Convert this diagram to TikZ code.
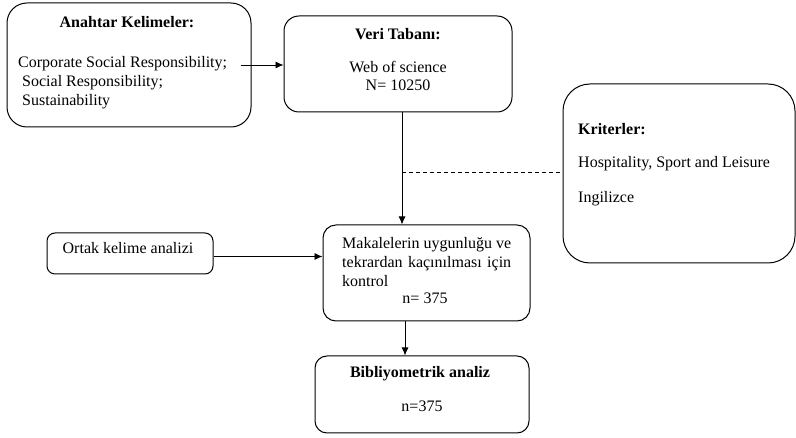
\documentclass[tikz,border=0pt]{standalone}
\usepackage{fontspec}
\setmainfont{Liberation Serif}
\usetikzlibrary{arrows.meta}

\tikzset{
  box/.style={draw, line width=1pt, inner sep=0pt},
  txt/.style={inner sep=0pt, font=\fontsize{16}{18.4}\selectfont},
  arr/.style={-{Latex[length=8pt,width=7pt]}, line width=0.9pt}
}

\begin{document}
\begin{tikzpicture}[x=1pt,y=-1pt]
    \useasboundingbox (0,0) rectangle (796,438);

    % Boxes
    \node[box, rounded corners=20pt, minimum width=244pt, minimum height=124pt] (kelime) at (129,65) {};
    \node[box, rounded corners=15pt, minimum width=228pt, minimum height=96pt] (veri) at (398,64) {};
    \node[box, rounded corners=27pt, minimum width=232pt, minimum height=179pt] (kriter) at (679,173.5) {};
    \node[box, rounded corners=8pt, minimum width=166pt, minimum height=41pt] (ortak) at (130,253.5) {};
    \node[box, rounded corners=13pt, minimum width=207pt, minimum height=96pt] (kontrol) at (426.5,273) {};
    \node[box, rounded corners=12pt, minimum width=214pt, minimum height=77pt] (bib) at (422,394.5) {};

    % Anahtar kelimeler
    \node[txt, anchor=base] (kelime-t) at (127,28) {\textbf{Anahtar Kelimeler:}};
    \node[txt, anchor=base west] (kelime-1) at (18,68) {Corporate Social Responsibility;};
    \node[txt, anchor=base west] (kelime-2) at (22,87) {Social Responsibility;};
    \node[txt, anchor=base west] (kelime-3) at (22,106) {Sustainability};

    % Veri tabani
    \node[txt, anchor=base] (veri-t) at (398,40) {\textbf{Veri Tabanı:}};
    \node[txt, anchor=base] (veri-1) at (398,73) {Web of science};
    \node[txt, anchor=base] (veri-2) at (398,91) {N= 10250};

    % Kriterler
    \node[txt, anchor=base west] (kriter-t) at (578,135) {\textbf{Kriterler:}};
    \node[txt, anchor=base west] (kriter-1) at (578,168) {Hospitality, Sport and Leisure};
    \node[txt, anchor=base west] (kriter-2) at (578,203) {Ingilizce};

    % Ortak kelime
    \node[txt, anchor=base] (ortak-t) at (128,254) {Ortak kelime analizi};

    % Kontrol
    \node[txt, anchor=base west] (kontrol-1) at (342,249) {\makebox[169pt][s]{Makalelerin uygunluğu ve}};
    \node[txt, anchor=base west] (kontrol-2) at (342,268) {\makebox[169pt][s]{tekrardan kaçınılması için}};
    \node[txt, anchor=base west] (kontrol-3) at (342,287) {kontrol};
    \node[txt, anchor=base] (kontrol-n) at (425,304) {n= 375};

    % Bibliyometrik analiz
    \node[txt, anchor=base] (bib-t) at (420,378) {\textbf{Bibliyometrik analiz}};
    \node[txt, anchor=base] (bib-n) at (422,412) {n=375};

    % Arrows
    \coordinate (tap) at (402,172);
    \draw[arr] ([xshift=-11pt]kelime.east) -- (veri.west |- kelime.east);
    \draw[arr] (veri.south -| tap) -- (kontrol.north -| tap);
    \draw[arr] ([yshift=-3pt]ortak.east) -- ([yshift=-3pt]kontrol.west |- ortak.east);
    \draw[arr] ([xshift=-21.5pt]kontrol.south) -- ([xshift=-21.5pt]kontrol.south |- bib.north);

    % Dashed line
    \draw[line width=0.9pt, dash pattern=on 4pt off 3pt] (tap) -- (kriter.west |- tap);

\end{tikzpicture}
\end{document}
